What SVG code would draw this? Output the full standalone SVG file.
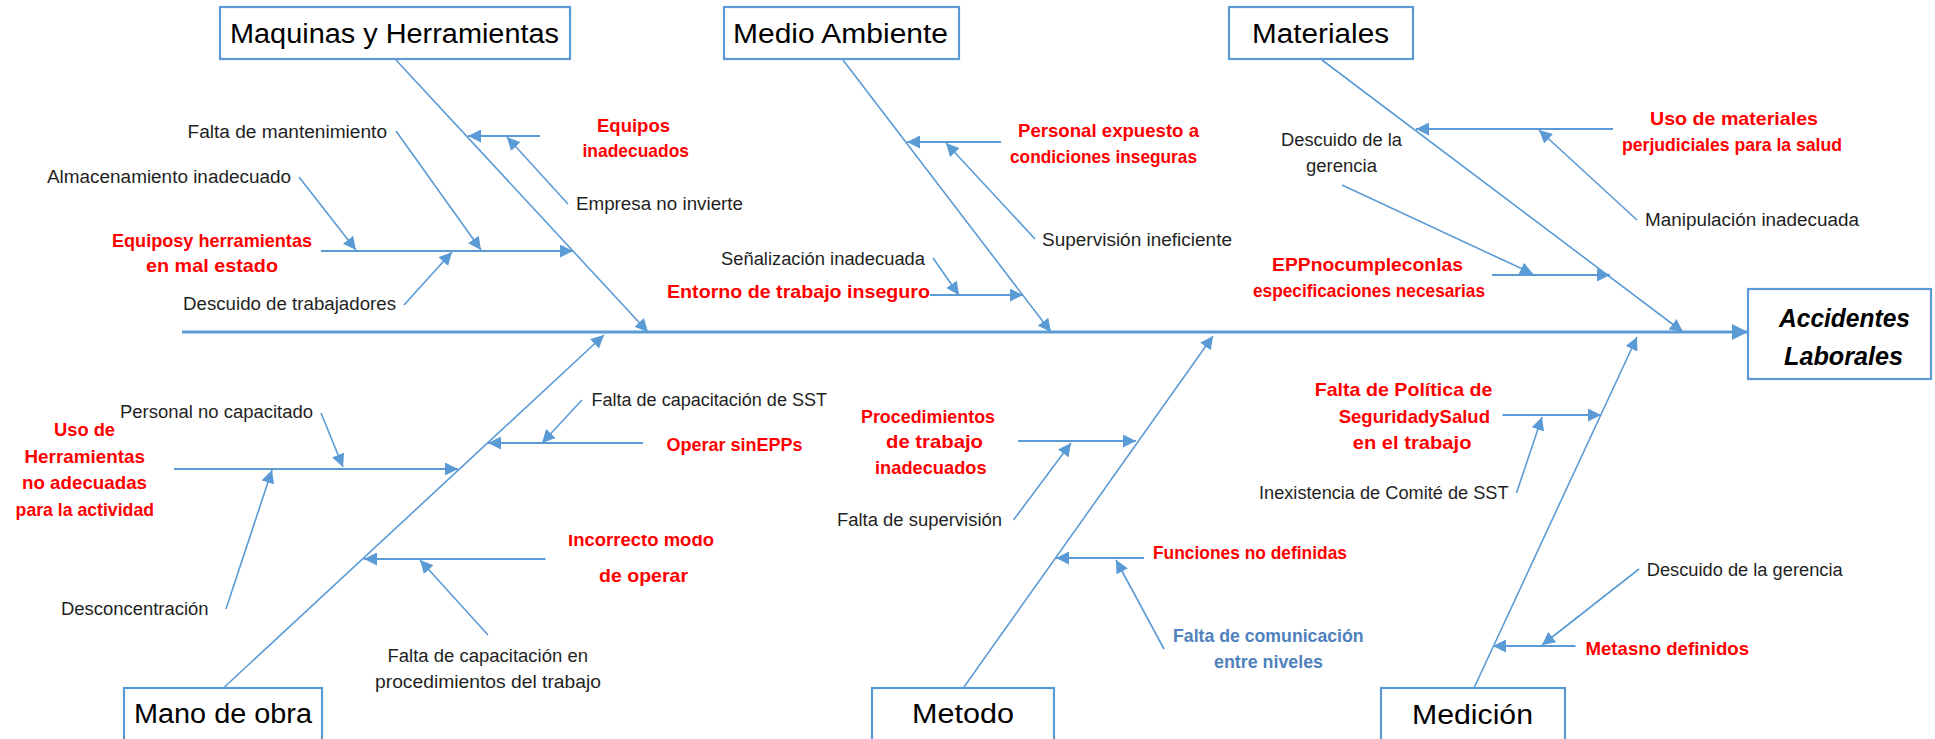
<svg xmlns="http://www.w3.org/2000/svg" width="1935" height="739" viewBox="0 0 1935 739">
<style>
.box{fill:#fff;stroke:#5B9BD5;stroke-width:2.2}
.ln{fill:none;stroke:#5B9BD5;stroke-width:1.6}
.hz{fill:none;stroke:#5B9BD5;stroke-width:2}
.sp{fill:none;stroke:#5B9BD5;stroke-width:3}
text{font-family:"Liberation Sans",Arial,sans-serif}
.t{font-size:27px;fill:#000}
.e{font-size:26px;fill:#000;font-weight:bold;font-style:italic}
.n{font-size:18px;fill:#1f1f1f}
.r{font-size:18.5px;fill:#FF0000;font-weight:bold}
.b{font-size:18.5px;fill:#4F81BD;font-weight:bold}
</style>
<defs>
<marker id="a" viewBox="0 0 10 10" refX="10" refY="5" markerWidth="13" markerHeight="13" markerUnits="userSpaceOnUse" orient="auto"><path d="M0,0 L10,5 L0,10 z" fill="#5B9BD5"/></marker>
<marker id="big" viewBox="0 0 10 10" refX="10" refY="5" markerWidth="16" markerHeight="17" markerUnits="userSpaceOnUse" orient="auto"><path d="M0,0 L10,5 L0,10 z" fill="#5B9BD5"/></marker>
<clipPath id="clipInc"><rect x="550" y="535" width="200" height="30"/></clipPath>
</defs>

<g id="connectors">
<line class="sp" x1="182" y1="332" x2="1748" y2="332" marker-end="url(#big)"/>
<line class="ln" x1="396" y1="60" x2="648" y2="332" marker-end="url(#a)"/>
<line class="ln" x1="843" y1="60" x2="1051" y2="332" marker-end="url(#a)"/>
<line class="ln" x1="1322" y1="60" x2="1683" y2="332" marker-end="url(#a)"/>
<line class="ln" x1="224.5" y1="687" x2="604" y2="335" marker-end="url(#a)"/>
<line class="ln" x1="964" y1="687" x2="1213" y2="336" marker-end="url(#a)"/>
<line class="ln" x1="1474" y1="688" x2="1637" y2="337" marker-end="url(#a)"/>

<line class="hz" x1="540" y1="136" x2="468" y2="136" marker-end="url(#a)"/>
<line class="hz" x1="321" y1="251" x2="573" y2="251" marker-end="url(#a)"/>
<line class="hz" x1="1001" y1="142" x2="907" y2="142" marker-end="url(#a)"/>
<line class="hz" x1="930" y1="295" x2="1023" y2="295" marker-end="url(#a)"/>
<line class="hz" x1="1613" y1="129" x2="1416" y2="129" marker-end="url(#a)"/>
<line class="hz" x1="1492" y1="275" x2="1610" y2="275" marker-end="url(#a)"/>
<line class="hz" x1="643" y1="443" x2="488" y2="443" marker-end="url(#a)"/>
<line class="hz" x1="174" y1="469" x2="458" y2="469" marker-end="url(#a)"/>
<line class="hz" x1="545.5" y1="559" x2="364" y2="559" marker-end="url(#a)"/>
<line class="hz" x1="1018" y1="441" x2="1136" y2="441" marker-end="url(#a)"/>
<line class="hz" x1="1144" y1="558" x2="1056" y2="558" marker-end="url(#a)"/>
<line class="hz" x1="1502.5" y1="415" x2="1601" y2="415" marker-end="url(#a)"/>
<line class="hz" x1="1575.5" y1="646" x2="1493" y2="646" marker-end="url(#a)"/>

<line class="ln" x1="568" y1="204" x2="507" y2="137" marker-end="url(#a)"/>
<line class="ln" x1="299" y1="177" x2="356" y2="250" marker-end="url(#a)"/>
<line class="ln" x1="396" y1="131" x2="481" y2="250" marker-end="url(#a)"/>
<line class="ln" x1="404" y1="305" x2="452" y2="252" marker-end="url(#a)"/>
<line class="ln" x1="1035" y1="239" x2="946" y2="143" marker-end="url(#a)"/>
<line class="ln" x1="933" y1="258" x2="959" y2="295" marker-end="url(#a)"/>
<line class="ln" x1="1637" y1="220" x2="1539" y2="130" marker-end="url(#a)"/>
<line class="ln" x1="1342" y1="185" x2="1533" y2="274" marker-end="url(#a)"/>
<line class="ln" x1="582" y1="400" x2="542" y2="443" marker-end="url(#a)"/>
<line class="ln" x1="321" y1="413" x2="343" y2="467" marker-end="url(#a)"/>
<line class="ln" x1="226" y1="609" x2="272" y2="470" marker-end="url(#a)"/>
<line class="ln" x1="488" y1="635" x2="420" y2="560" marker-end="url(#a)"/>
<line class="ln" x1="1013.5" y1="520" x2="1071" y2="443" marker-end="url(#a)"/>
<line class="ln" x1="1164" y1="649" x2="1116" y2="560" marker-end="url(#a)"/>
<line class="ln" x1="1516.5" y1="493" x2="1542" y2="417" marker-end="url(#a)"/>
<line class="ln" x1="1639" y1="569" x2="1542" y2="645" marker-end="url(#a)"/>
</g>

<g id="maquinas"><rect class="box" x="220" y="7" width="350" height="52"/><text class="t" x="230" y="43" textLength="329" lengthAdjust="spacingAndGlyphs">Maquinas y Herramientas</text></g>
<g id="medio"><rect class="box" x="724" y="7" width="235" height="52"/><text class="t" x="733" y="43" textLength="215" lengthAdjust="spacingAndGlyphs">Medio Ambiente</text></g>
<g id="materiales"><rect class="box" x="1229" y="7" width="184" height="52"/><text class="t" x="1252" y="43" textLength="137" lengthAdjust="spacingAndGlyphs">Materiales</text></g>
<g id="accidentes"><rect class="box" x="1748" y="289" width="183" height="90"/><text class="e" x="1779" y="327" textLength="131" lengthAdjust="spacingAndGlyphs">Accidentes</text><text class="e" x="1784" y="365" textLength="119" lengthAdjust="spacingAndGlyphs">Laborales</text></g>
<g id="mano"><rect class="box" x="124" y="688" width="198" height="60"/><text class="t" x="134" y="723" textLength="178" lengthAdjust="spacingAndGlyphs">Mano de obra</text></g>
<g id="metodo"><rect class="box" x="872" y="688" width="182" height="60"/><text class="t" x="912" y="723" textLength="102" lengthAdjust="spacingAndGlyphs">Metodo</text></g>
<g id="medicion"><rect class="box" x="1381" y="688" width="184" height="60"/><text class="t" x="1412" y="724" textLength="121" lengthAdjust="spacingAndGlyphs">Medición</text></g>

<g id="c-equipos"><text class="r" x="597" y="132" textLength="73" lengthAdjust="spacingAndGlyphs">Equipos</text><text class="r" x="582.5" y="157" textLength="106.5" lengthAdjust="spacingAndGlyphs">inadecuados</text></g>
<g id="c-empresa"><text class="n" x="576" y="210" textLength="167" lengthAdjust="spacingAndGlyphs">Empresa no invierte</text></g>
<g id="c-equiposherr"><text class="r" x="112" y="247" textLength="200" lengthAdjust="spacingAndGlyphs">Equiposy herramientas</text><text class="r" x="146" y="272" textLength="132" lengthAdjust="spacingAndGlyphs">en mal estado</text></g>
<g id="c-mant"><text class="n" x="187.5" y="138" textLength="199.5" lengthAdjust="spacingAndGlyphs">Falta de mantenimiento</text></g>
<g id="c-almac"><text class="n" x="47" y="183" textLength="244" lengthAdjust="spacingAndGlyphs">Almacenamiento inadecuado</text></g>
<g id="c-descuidotrab"><text class="n" x="183" y="310" textLength="213" lengthAdjust="spacingAndGlyphs">Descuido de trabajadores</text></g>

<g id="c-personal"><text class="r" x="1018" y="137" textLength="181" lengthAdjust="spacingAndGlyphs">Personal expuesto a</text><text class="r" x="1010" y="163" textLength="187" lengthAdjust="spacingAndGlyphs">condiciones inseguras</text></g>
<g id="c-superv"><text class="n" x="1042" y="246" textLength="190" lengthAdjust="spacingAndGlyphs">Supervisión ineficiente</text></g>
<g id="c-senal"><text class="n" x="721" y="265" textLength="204" lengthAdjust="spacingAndGlyphs">Señalización inadecuada</text></g>
<g id="c-entorno"><text class="r" x="667" y="298" textLength="263" lengthAdjust="spacingAndGlyphs">Entorno de trabajo inseguro</text></g>

<g id="c-usomat"><text class="r" x="1650" y="125" textLength="168" lengthAdjust="spacingAndGlyphs">Uso de materiales</text><text class="r" x="1622" y="151" textLength="220" lengthAdjust="spacingAndGlyphs">perjudiciales para la salud</text></g>
<g id="c-manip"><text class="n" x="1645" y="226" textLength="214" lengthAdjust="spacingAndGlyphs">Manipulación inadecuada</text></g>
<g id="c-descger1"><text class="n" x="1281" y="146" textLength="121" lengthAdjust="spacingAndGlyphs">Descuido de la</text><text class="n" x="1306" y="172" textLength="71" lengthAdjust="spacingAndGlyphs">gerencia</text></g>
<g id="c-epp"><text class="r" x="1272" y="271" textLength="191" lengthAdjust="spacingAndGlyphs">EPPnocumpleconlas</text><text class="r" x="1253" y="297" textLength="232" lengthAdjust="spacingAndGlyphs">especificaciones necesarias</text></g>

<g id="c-usoherr"><text class="r" x="54" y="436" textLength="61" lengthAdjust="spacingAndGlyphs">Uso de</text><text class="r" x="24.5" y="463" textLength="120.5" lengthAdjust="spacingAndGlyphs">Herramientas</text><text class="r" x="22" y="489" textLength="125" lengthAdjust="spacingAndGlyphs">no adecuadas</text><text class="r" x="15.6" y="516" textLength="138.4" lengthAdjust="spacingAndGlyphs">para la actividad</text></g>
<g id="c-persnocap"><text class="n" x="120" y="418" textLength="193" lengthAdjust="spacingAndGlyphs">Personal no capacitado</text></g>
<g id="c-descon"><text class="n" x="61" y="615" textLength="147.5" lengthAdjust="spacingAndGlyphs">Desconcentración</text></g>
<g id="c-faltasst"><text class="n" x="591.5" y="406" textLength="235.5" lengthAdjust="spacingAndGlyphs">Falta de capacitación de SST</text></g>
<g id="c-operar"><text class="r" x="666.5" y="451" textLength="136" lengthAdjust="spacingAndGlyphs">Operar sinEPPs</text></g>
<g id="c-incorrecto"><text class="r" x="568" y="546" textLength="146" lengthAdjust="spacingAndGlyphs" clip-path="url(#clipInc)">Incorrecto modo</text><text class="r" x="599" y="582" textLength="89" lengthAdjust="spacingAndGlyphs">de operar</text></g>
<g id="c-faltaproc"><text class="n" x="387.5" y="662" textLength="200.5" lengthAdjust="spacingAndGlyphs">Falta de capacitación en</text><text class="n" x="375" y="688" textLength="226" lengthAdjust="spacingAndGlyphs">procedimientos del trabajo</text></g>

<g id="c-proced"><text class="r" x="861" y="423" textLength="134" lengthAdjust="spacingAndGlyphs">Procedimientos</text><text class="r" x="886" y="448" textLength="97" lengthAdjust="spacingAndGlyphs">de trabajo</text><text class="r" x="875" y="474" textLength="111.6" lengthAdjust="spacingAndGlyphs">inadecuados</text></g>
<g id="c-faltasup"><text class="n" x="837" y="526" textLength="165" lengthAdjust="spacingAndGlyphs">Falta de supervisión</text></g>
<g id="c-funciones"><text class="r" x="1153" y="559" textLength="194" lengthAdjust="spacingAndGlyphs">Funciones no definidas</text></g>
<g id="c-comunic"><text class="b" x="1173" y="642" textLength="190.6" lengthAdjust="spacingAndGlyphs">Falta de comunicación</text><text class="b" x="1214" y="668" textLength="109" lengthAdjust="spacingAndGlyphs">entre niveles</text></g>

<g id="c-politica"><text class="r" x="1314.7" y="396" textLength="177.8" lengthAdjust="spacingAndGlyphs">Falta de Política de</text><text class="r" x="1338.7" y="423" textLength="151.3" lengthAdjust="spacingAndGlyphs">SeguridadySalud</text><text class="r" x="1352.7" y="449" textLength="118.8" lengthAdjust="spacingAndGlyphs">en el trabajo</text></g>
<g id="c-inexist"><text class="n" x="1259" y="499" textLength="249.5" lengthAdjust="spacingAndGlyphs">Inexistencia de Comité de SST</text></g>
<g id="c-descger2"><text class="n" x="1646.7" y="576" textLength="196" lengthAdjust="spacingAndGlyphs">Descuido de la gerencia</text></g>
<g id="c-metas"><text class="r" x="1585.5" y="655" textLength="163.5" lengthAdjust="spacingAndGlyphs">Metasno definidos</text></g>
</svg>
